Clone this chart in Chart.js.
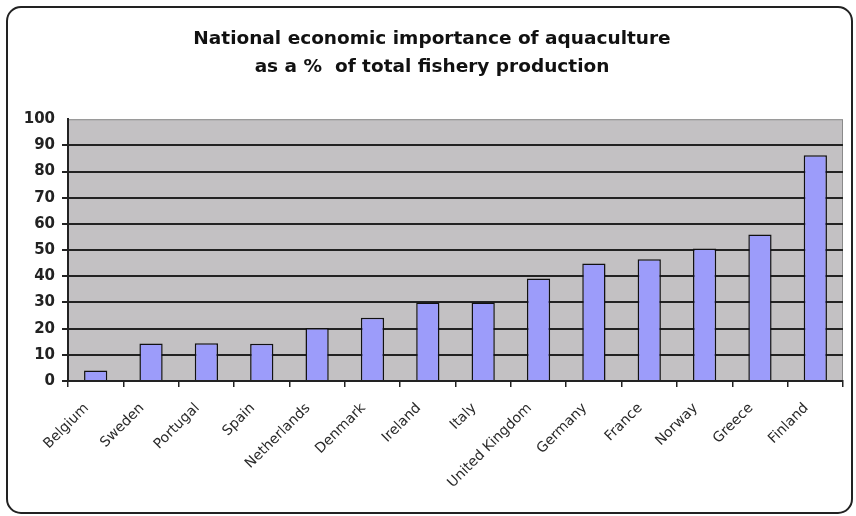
<!DOCTYPE html>
<html>
<head>
<meta charset="utf-8">
<script src="https://cdn.jsdelivr.net/npm/chart.js@4"></script>
<style>
  html, body { margin: 0; padding: 0; background: #fff; }
  #wrap { width: 856px; height: 516px; }
</style>
</head>
<body>
<div id="wrap"><canvas id="chart" width="856" height="516"></canvas></div>
<script>
const countries = ['Belgium', 'Sweden', 'Portugal', 'Spain', 'Netherlands', 'Denmark', 'Ireland',
    'Italy', 'United Kingdom', 'Germany', 'France', 'Norway', 'Greece', 'Finland'];
const shares = [4, 14.3, 14.4, 14.2, 20.2, 24.2, 30, 30, 39.2, 44.9, 46.5, 50.6, 56, 86.2];
const titleLines = ['National economic importance of aquaculture', 'as a %  of total fishery production'];

// gray plot background and the rounded outer frame
const frame = {
    id: 'frame',
    beforeDraw(chart) {
        const { ctx, chartArea: a } = chart;
        ctx.save();
        ctx.fillStyle = '#c3c1c3';
        ctx.fillRect(a.left, a.top, a.right - a.left, a.bottom - a.top);
        ctx.strokeStyle = '#8a8a8a';
        ctx.lineWidth = 1;
        ctx.strokeRect(a.left + 0.5, a.top + 0.5, a.right - a.left - 1, a.bottom - a.top);
        ctx.strokeStyle = '#222';
        ctx.lineWidth = 2;
        ctx.beginPath();
        ctx.roundRect(7, 7, chart.width - 11, chart.height - 10, 14);
        ctx.stroke();
        ctx.restore();
    }
};

new Chart(document.getElementById('chart'), {
    type: 'bar',
    data: {
        labels: countries,
        datasets: [{
            data: shares,
            backgroundColor: '#9c9cfa',
            borderColor: '#111',
            borderWidth: 1.5,
            barPercentage: 0.42,
            categoryPercentage: 1
        }]
    },
    options: {
        responsive: false,
        animation: false,
        layout: { padding: { left: 21, right: 13, top: 0, bottom: 0 } },
        plugins: {
            legend: { display: false },
            tooltip: { enabled: false },
            title: {
                display: true,
                text: titleLines,
                color: '#111',
                font: { family: 'DejaVu Sans', size: 18.5, weight: 'bold', lineHeight: 1.52 },
                padding: { top: 25, bottom: 38 }
            }
        },
        scales: {
            x: {
                grid: { drawOnChartArea: false, drawTicks: true, tickLength: 6, color: '#222', lineWidth: 1.5 },
                border: { color: '#222', width: 2 },
                ticks: {
                    color: '#2a2a2a',
                    font: { family: 'DejaVu Sans', size: 14 },
                    minRotation: 45,
                    maxRotation: 45,
                    autoSkip: false,
                    padding: 13,
                    labelOffset: -9
                },
                afterFit(scale) { scale.height = 135; }
            },
            y: {
                min: 0,
                max: 100,
                ticks: {
                    stepSize: 10,
                    color: '#222',
                    font: { family: 'DejaVu Sans', size: 15, weight: 'bold' },
                    padding: 7
                },
                grid: {
                    tickLength: 6,
                    color: ctx => ctx.tick && ctx.tick.value === 100 ? 'rgba(0,0,0,0)' : '#222',
                    lineWidth: 2
                },
                border: { color: '#222', width: 2 },
                afterFit(scale) { scale.width = 47; }
            }
        }
    },
    plugins: [frame]
});
</script>
</body>
</html>
